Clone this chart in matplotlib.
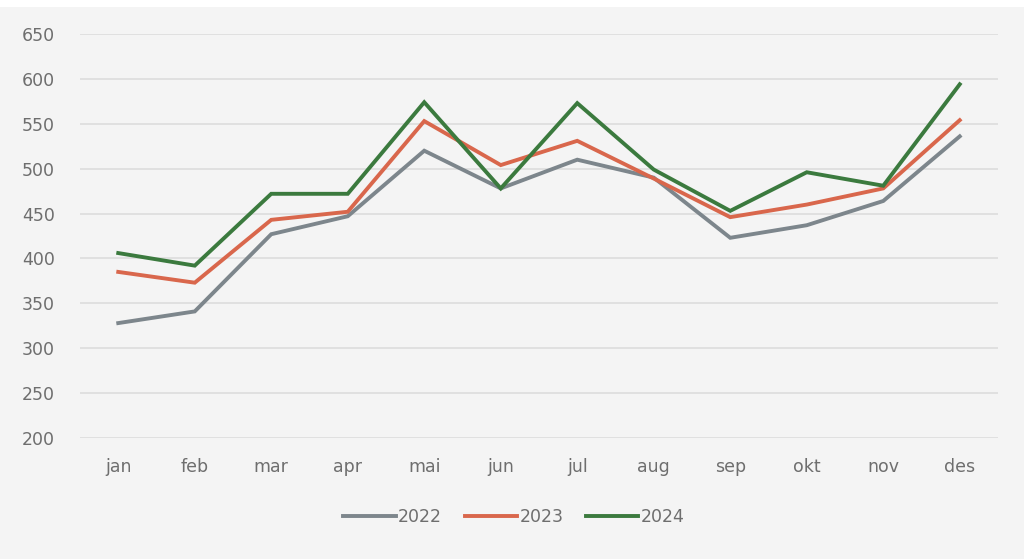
import matplotlib.pyplot as plt
from matplotlib.patches import Rectangle

months = ["jan", "feb", "mar", "apr", "mai", "jun", "jul", "aug", "sep", "okt", "nov", "des"]
y2022 = [328, 341, 427, 447, 520, 478, 510, 490, 423, 437, 464, 536]
y2023 = [385, 373, 443, 452, 553, 504, 531, 489, 446, 460, 478, 554]
y2024 = [406, 392, 472, 472, 574, 478, 573, 499, 453, 496, 481, 594]
yticks = [200, 250, 300, 350, 400, 450, 500, 550, 600, 650]

bg = "#f4f4f4"
txt = "#6e6e6e"

fig = plt.figure(figsize=(10.24, 5.59), dpi=100, facecolor=bg)
# thin white strip at the top of the image
fig.patches.append(Rectangle((0, 1 - 7 / 559), 1, 7 / 559, transform=fig.transFigure,
                             facecolor="white", edgecolor="none", zorder=-1))
ax = fig.add_axes([80 / 1024, 121 / 559, 918 / 1024, 404 / 559])
ax.set_facecolor(bg)

x = range(len(months))
ax.plot(x, y2022, color="#7d868c", lw=2.8, label="2022", solid_joinstyle="miter")
ax.plot(x, y2023, color="#d9674c", lw=2.8, label="2023", solid_joinstyle="miter")
ax.plot(x, y2024, color="#3b7a3e", lw=2.8, label="2024", solid_joinstyle="miter")

ax.set_xlim(-0.5, len(months) - 0.5)
ax.set_ylim(200, 650)
ax.set_yticks(yticks)
ax.set_xticks(list(x))
ax.set_xticklabels(months)
ax.grid(axis="y", color="#dcdcdc", lw=1.2)
ax.set_axisbelow(True)
for s in ax.spines.values():
    s.set_visible(False)
ax.tick_params(length=0, labelsize=12.5, labelcolor=txt)
ax.tick_params(axis="y", pad=18)
ax.tick_params(axis="x", pad=14.5)

leg = fig.legend(loc="center", bbox_to_anchor=(514 / 1024, 1 - 517 / 559), ncol=3,
                 frameon=False, fontsize=12.5, handlelength=3.0, handletextpad=0.15,
                 columnspacing=1.3, labelcolor=txt)

fig.savefig("out.png", dpi=100, facecolor=bg)
